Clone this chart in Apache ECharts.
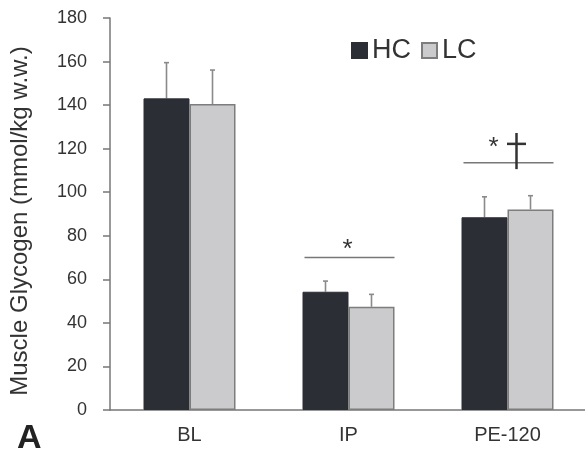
<!DOCTYPE html>
<html>
<head>
<meta charset="utf-8">
<script src="https://cdn.jsdelivr.net/npm/echarts@6/dist/echarts.min.js"></script>
<style>html,body{margin:0;padding:0;background:#fff;}#c{width:585px;height:452px;}</style>
</head>
<body>
<div id="c"></div>
<script>
const categories = ['BL', 'IP', 'PE-120'];
const hcValues = [143.1, 54.3, 88.5];
const lcValues = [140.5, 47.4, 92.1];
const hcErrors = [16.4, 4.9, 9.4];
const lcErrors = [15.6, 5.7, 6.3];
const yTicks = [0, 20, 40, 60, 80, 100, 120, 140, 160, 180];
const sigLineLevels = [null, 70, 113.5];
const sigStarLevels = [null, 76.5, 123];
const daggerTop = 127.2;
const daggerBottom = 110.6;
const daggerBar = 122.2;

const chart = echarts.init(document.getElementById('c'), null, {renderer: 'canvas'});
const FONT = '"Liberation Sans", Arial, sans-serif';
const BW = 46;

function errRender(offset) {
  return function (params, api) {
    const i = api.value(0);
    const p = api.coord([i, api.value(1)]);
    const t = api.coord([i, api.value(1) + api.value(2)]);
    const x = p[0] + offset;
    const st = {stroke: '#8a8a8a', lineWidth: 1.6};
    return {type: 'group', children: [
      {type: 'line', shape: {x1: x, y1: p[1], x2: x, y2: t[1]}, style: st},
      {type: 'line', shape: {x1: x - 2.5, y1: t[1], x2: x + 2.5, y2: t[1]}, style: st}
    ]};
  };
}

const sigData = [];
categories.forEach((c, i) => { if (sigLineLevels[i] != null) sigData.push([i, sigLineLevels[i], sigStarLevels[i]]); });

chart.setOption({
  animation: false,
  textStyle: {fontFamily: FONT},
  grid: {left: 110, top: 18, width: 477, height: 392, containLabel: false, outerBoundsMode: 'none'},
  legend: {
    data: ['HC', 'LC'],
    left: 346, top: 32,
    itemWidth: 15, itemHeight: 15, itemGap: 10,
    icon: 'rect',
    textStyle: {fontFamily: FONT, fontSize: 27, color: '#333'}
  },
  xAxis: {
    type: 'category', data: categories,
    axisLine: {lineStyle: {color: '#777', width: 1.5}},
    axisTick: {length: 6, lineStyle: {color: '#777', width: 1.5}},
    axisLabel: {fontSize: 20, color: '#333', margin: 15, fontFamily: FONT}
  },
  yAxis: {
    type: 'value', min: yTicks[0], max: yTicks[yTicks.length - 1], interval: 20,
    splitLine: {show: false},
    axisLine: {show: true, lineStyle: {color: '#777', width: 1.5}},
    axisTick: {show: true, length: 7, lineStyle: {color: '#777', width: 1.5}},
    axisLabel: {fontSize: 18, color: '#333', margin: 23, fontFamily: FONT},
    name: 'Muscle Glycogen (mmol/kg w.w.)',
    nameLocation: 'middle', nameGap: 78,
    nameTextStyle: {fontSize: 24, color: '#333', fontFamily: FONT, padding: [0, 14, 0, 0]}
  },
  series: [
    {name: 'HC', type: 'bar', data: hcValues, barWidth: BW, barGap: '0%',
     itemStyle: {color: '#2b2e35', borderColor: '#2b2e35', borderWidth: 1}},
    {name: 'LC', type: 'bar', data: lcValues, barWidth: BW,
     itemStyle: {color: '#cbcbcd', borderColor: '#7d7d7d', borderWidth: 1.5}},
    {type: 'custom', renderItem: errRender(-BW / 2), data: categories.map((c, i) => [i, hcValues[i], hcErrors[i]]), encode: {x: 0, y: 1}, z: 1, silent: true},
    {type: 'custom', renderItem: errRender(BW / 2), data: categories.map((c, i) => [i, lcValues[i], lcErrors[i]]), encode: {x: 0, y: 1}, z: 1, silent: true},
    {type: 'custom', silent: true, z: 5, encode: {x: 0, y: 1}, data: sigData,
     renderItem: function (params, api) {
       const i = api.value(0);
       const l = api.coord([i, api.value(1)]);
       const s = api.coord([i, api.value(2)]);
       const cx = l[0];
       const children = [
         {type: 'line', shape: {x1: cx - 44, y1: l[1], x2: cx + 46, y2: l[1]}, style: {stroke: '#777', lineWidth: 1.5}}
       ];
       if (i === 2) {
         children.push({type: 'text', x: cx - 14, y: s[1] + 6, style: {text: '*', fontSize: 26, fontFamily: FONT, fill: '#333', align: 'center', verticalAlign: 'middle'}});
         const dt = api.coord([i, daggerTop]);
         const db = api.coord([i, daggerBottom]);
         const dbar = api.coord([i, daggerBar]);
         const dx = cx + 9;
         children.push({type: 'line', shape: {x1: dx, y1: dt[1], x2: dx, y2: db[1]}, style: {stroke: '#333', lineWidth: 2.5}});
         children.push({type: 'line', shape: {x1: dx - 9.5, y1: dbar[1], x2: dx + 9.5, y2: dbar[1]}, style: {stroke: '#333', lineWidth: 2.5}});
       } else {
         children.push({type: 'text', x: cx - 1, y: s[1] + 6, style: {text: '*', fontSize: 26, fontFamily: FONT, fill: '#333', align: 'center', verticalAlign: 'middle'}});
       }
       return {type: 'group', children: children};
     }}
  ],
  graphic: [
    {type: 'text', left: 17, top: 422, style: {text: 'A', fontSize: 34, fontWeight: 'bold', fontFamily: FONT, fill: '#222'}}
  ]
});
</script>
</body>
</html>
